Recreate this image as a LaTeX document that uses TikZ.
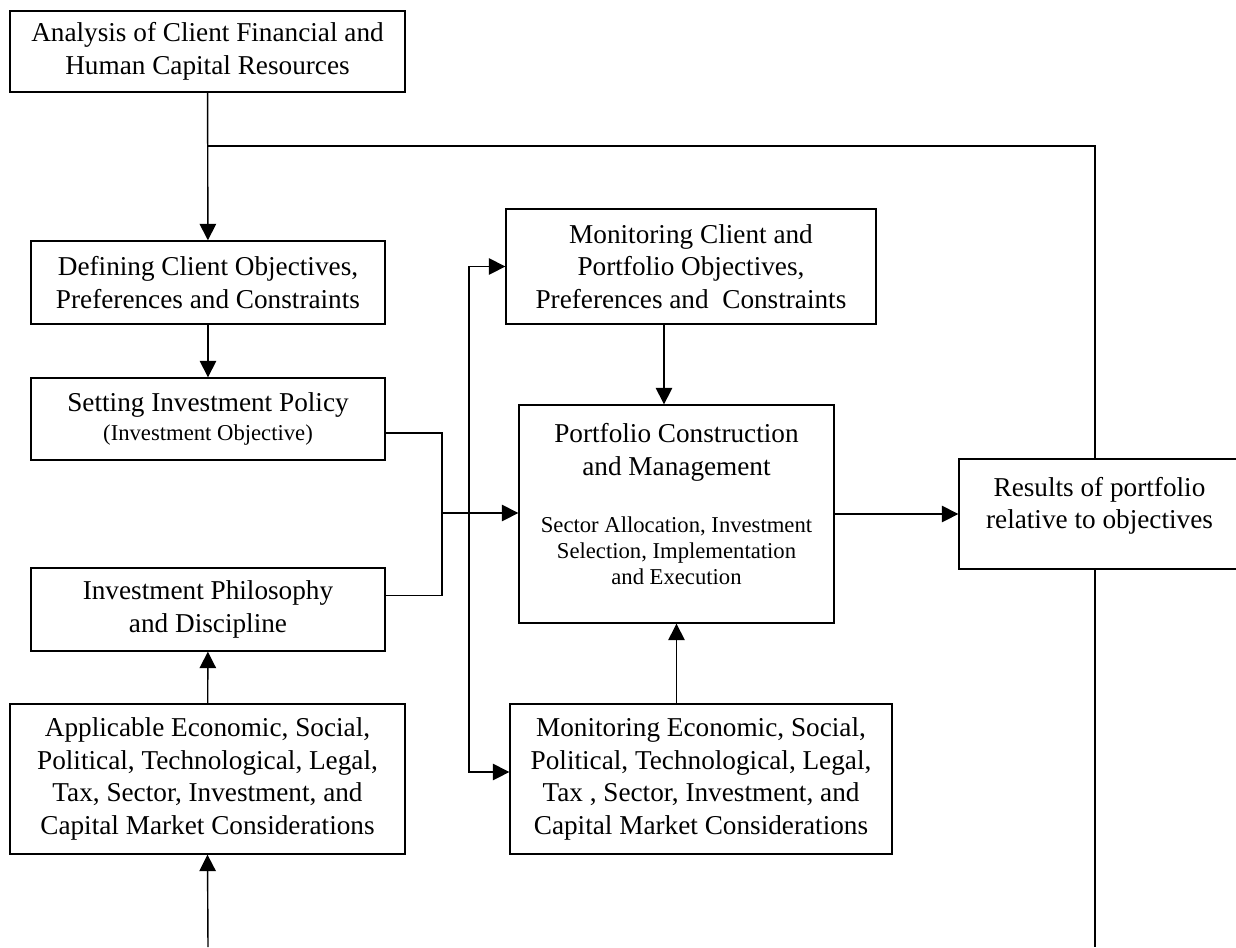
\documentclass[tikz,border=0pt]{standalone}
\usepackage{fontspec}
\setmainfont{Liberation Serif}
\usetikzlibrary{positioning, arrows.meta, calc}

\begin{document}
\begin{tikzpicture}[
    x=0.02cm, y=-0.02cm,
    every node/.style={font=\fontsize{15.5}{18.6}\selectfont},
    b/.style={draw, line width=0.8pt, inner sep=0pt, align=center},
    wide/.style={b, minimum width=7.9cm},
    narrow/.style={b, minimum width=7.08cm},
    line/.style={line width=0.8pt},
    arrow/.style={line, -{Triangle[length=3.3mm, width=3.3mm]}},
    twoway/.style={line, {Triangle[length=3.3mm, width=3.3mm]}-{Triangle[length=3.3mm, width=3.3mm]}}
  ]
  \useasboundingbox (0,0) rectangle (1236,947);
  \clip (0,0) rectangle (1236,947);

  % left column
  \node[wide, minimum height=1.62cm]   (ana) at (207.5,51.5) {Analysis of Client Financial and\\Human Capital Resources};
  \node[narrow, minimum height=1.66cm] (def) at (208,282.5) {Defining Client Objectives,\\Preferences and Constraints};
  \node[narrow, minimum height=1.64cm] (pol) at (208,419) {Setting Investment Policy\\[-2pt]{\fontsize{12.9}{15}\selectfont (Investment Objective)}};
  \node[narrow, minimum height=1.66cm] (phi) at (208,609.5) {Investment Philosophy\\and Discipline};
  \node[wide, minimum height=3cm]      (app) at (207.5,779) {Applicable Economic, Social,\\Political, Technological, Legal,\\Tax, Sector, Investment, and\\Capital Market Considerations};

  % middle column
  \node[b, minimum width=7.4cm, minimum height=2.3cm]  (mcl) at (691,266.5) {Monitoring Client and\\Portfolio Objectives,\\Preferences and~~Constraints};
  \node[b, minimum width=6.3cm, minimum height=4.36cm] (pcm) at (676.5,514) {Portfolio Construction\\and Management\\[14pt]{\fontsize{12.9}{15}\selectfont Sector Allocation, Investment}\\[-3.8pt]{\fontsize{12.9}{15}\selectfont Selection, Implementation}\\[-3.8pt]{\fontsize{12.9}{15}\selectfont and Execution}\\[-7pt]\mbox{}};
  \node[b, minimum width=7.64cm, minimum height=3cm]   (mec) at (701,779) {Monitoring Economic, Social,\\Political, Technological, Legal,\\Tax , Sector, Investment, and\\Capital Market Considerations};

  % right column
  \node[b, minimum width=5.62cm, minimum height=2.2cm] (res) at (1099.5,514) {Results of portfolio\\relative to objectives\\[-6pt]\mbox{}};

  \coordinate (fb)  at (1095,146);
  \coordinate (rb)  at (1095,947);
  \coordinate (ab)  at (208,947);
  \coordinate (jn)  at (442,513);
  \coordinate (bus) at (469,513);

  % feedback loop
  \draw[arrow] (ana) -- (def);
  \draw[line] (ana.south |- fb) -- (fb) -- (fb |- res.north);
  \draw[line] (fb |- res.south) -- (rb);

  % left chain
  \draw[arrow] (def) -- (pol);
  \draw[arrow] (ab) -- (app.south);
  \draw[arrow] (app) -- (phi);
  \draw[line] ([yshift=-0.28cm]pol.east) -| (jn) |- ([yshift=0.28cm]phi.east);
  \draw[arrow] (jn) -- (jn -| pcm.west);

  % monitoring
  \draw[twoway] (mcl.west) -| (bus) |- ([yshift=0.14cm]mec.west);
  \draw[arrow] ([xshift=-0.25cm]pcm.north |- mcl.south) -- ([xshift=-0.25cm]pcm.north);
  \draw[arrow] (mec.north -| pcm.south) -- (pcm.south);
  \draw[arrow] (pcm.east) -- (pcm.east -| res.west);
\end{tikzpicture}
\end{document}
